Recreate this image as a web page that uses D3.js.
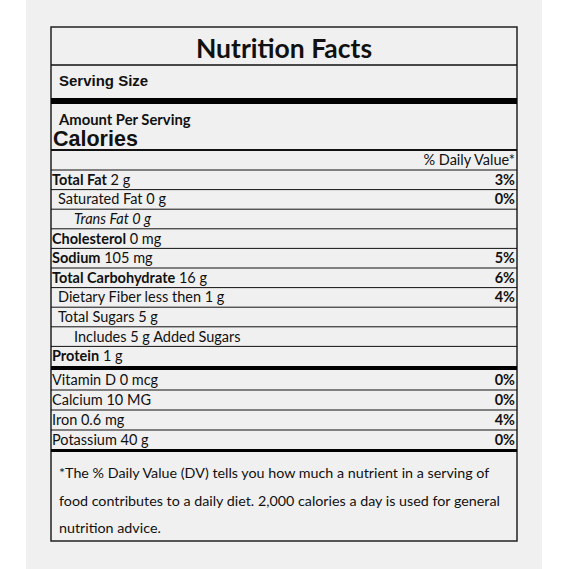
<!DOCTYPE html>
<html><head><meta charset="utf-8">
<script src="https://cdn.jsdelivr.net/npm/d3@7"></script>
<style>body{margin:0;background:#fff}</style></head>
<body><svg id="c" width="569" height="569"></svg>
<script>
const nutrients = ["Total Fat","Saturated Fat","Trans Fat","Cholesterol","Sodium","Total Carbohydrate","Dietary Fiber less then","Total Sugars","Includes 5 g Added Sugars","Protein"];
const amounts = ["2 g","0 g","0 g","0 mg","105 mg","16 g","1 g","5 g","","1 g"];
const dailyValues = ["3%","0%","","","5%","6%","4%","","",""];
const levels = [0,1,2,0,0,0,1,1,2,0];
const vitamins = ["Vitamin D","Calcium","Iron","Potassium"];
const vitAmounts = ["0 mcg","10 MG","0.6 mg","40 g"];
const vitDV = ["0%","0%","4%","0%"];
const footnote = ["*The % Daily Value (DV) tells you how much a nutrient in a serving of","food contributes to a daily diet. 2,000 calories a day is used for general","nutrition advice."];

const svg = d3.select("#c");
const F = "Lato, 'Open Sans', sans-serif";
const L = 51, R = 517;
svg.append("rect").attr("x",26).attr("y",0).attr("width",516).attr("height",569).attr("fill","#f0f0f0");
svg.append("rect").attr("x",L).attr("y",27).attr("width",R-L).attr("height",514).attr("fill","none").attr("stroke","#222").attr("stroke-width",1.5);
const hline=(y,w)=>svg.append("line").attr("x1",L).attr("x2",R).attr("y1",y).attr("y2",y).attr("stroke","#111").attr("stroke-width",w||1);
const text=(x,y,t,o)=>{o=o||{};return svg.append("text").attr("x",x).attr("y",y).text(t).attr("font-family",o.f||F).attr("font-size",o.s||13).attr("font-weight",o.w||400).attr("font-style",o.i?"italic":null).attr("text-anchor",o.a||"start").attr("fill","#111");};

text(284,58,"Nutrition Facts",{s:26.5,w:700,a:"middle"});
hline(65,1.5);
text(59,86,"Serving Size",{s:15,w:700,f:"Arial, 'Liberation Sans', sans-serif"});
svg.append("rect").attr("x",L).attr("y",98).attr("width",R-L).attr("height",6).attr("fill","#000");
text(59,125,"Amount Per Serving",{s:14.8,w:700});
text(53,146,"Calories",{s:21.5,w:700,f:"Arial, 'Liberation Sans', sans-serif"});
hline(150,2);
text(515,165,"% Daily Value*",{s:14.5,a:"end"});

const y = d3.scaleBand().domain(d3.range(nutrients.length)).range([170,366]);
hline(170,1);
nutrients.forEach((n,i)=>{
  const yy=y(i)+y.bandwidth()/2+5, x=52+[0,6,22][levels[i]];
  const t=text(x,yy,"",{s:14.5,i:levels[i]===2&&i===2});
  t.append("tspan").attr("font-weight",levels[i]===0?700:400).text(n);
  if(amounts[i]) t.append("tspan").text(" "+amounts[i]);
  if(dailyValues[i]) text(515,yy,dailyValues[i],{s:14.5,w:700,a:"end"});
  if(i<nutrients.length-1) hline(y(i)+y.bandwidth(),1);
});
svg.append("rect").attr("x",L).attr("y",366).attr("width",R-L).attr("height",4).attr("fill","#000");
const y2 = d3.scaleBand().domain(d3.range(vitamins.length)).range([370,450]);
vitamins.forEach((v,i)=>{
  const yy=y2(i)+y2.bandwidth()/2+5;
  text(52,yy,v+" "+vitAmounts[i],{s:14.5});
  text(515,yy,vitDV[i],{s:14.5,w:700,a:"end"});
  if(i<vitamins.length-1) hline(y2(i)+y2.bandwidth(),1);
});
svg.append("rect").attr("x",L).attr("y",449).attr("width",R-L).attr("height",3).attr("fill","#000");
footnote.forEach((f,i)=>text(59,478+i*27.5,f,{s:14.3}));
</script></body></html>
